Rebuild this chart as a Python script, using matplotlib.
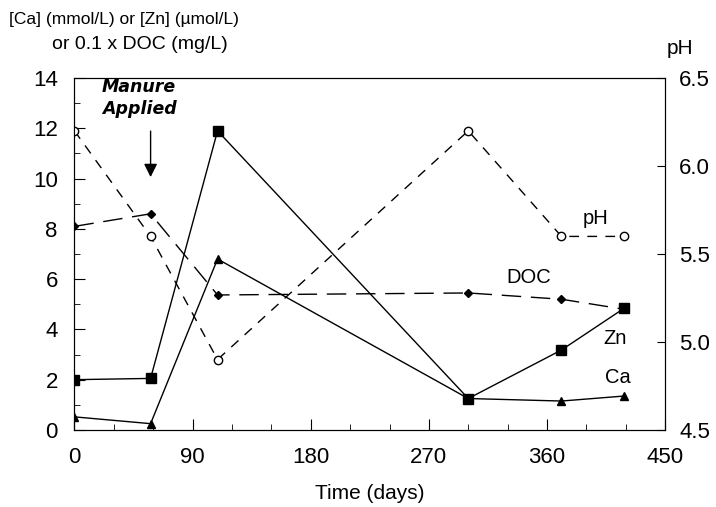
import matplotlib.pyplot as plt
from matplotlib.ticker import MultipleLocator

plt.rcParams['font.family'] = ['Liberation Sans', 'DejaVu Sans']

# data
days = [0, 58, 109, 300, 371, 419]
zn = [2.0, 2.05, 11.9, 1.25, 3.18, 4.85]
ca = [0.52, 0.25, 6.8, 1.25, 1.15, 1.35]
doc = [8.1, 8.6, 5.37, 5.45, 5.2, 4.8]
ph = [6.2, 5.6, 4.9, 6.2, 5.6, 5.6]

fig = plt.figure(figsize=(7.16, 5.07), dpi=100)
ax = fig.add_axes([0.104, 0.152, 0.825, 0.694])
ax2 = ax.twinx()

# Ca, Zn, DOC on left axis
ax.plot(days, zn, color='black', lw=1, marker='s', ms=7, mfc='black')
ax.plot(days, ca, color='black', lw=1, marker='^', ms=6, mfc='black')
ax.plot(days, doc, color='black', lw=1, marker='D', ms=4.5, mfc='black',
        dashes=(14, 7))

# pH on right axis
ax2.plot(days, ph, color='black', lw=1, marker='o', ms=6, mfc='white',
         mec='black', dashes=(7, 6))

ax.set_xlim(0, 450)
ax.set_ylim(0, 14)
ax2.set_ylim(4.5, 6.5)
ax.xaxis.set_major_locator(MultipleLocator(90))
ax.xaxis.set_minor_locator(MultipleLocator(30))
ax.yaxis.set_major_locator(MultipleLocator(2))
ax.yaxis.set_minor_locator(MultipleLocator(1))
ax2.set_yticks([4.5, 5.0, 5.5, 6.0, 6.5])
ax2.set_yticklabels(['4.5', '5.0', '5.5', '6.0', '6.5'])

ax.tick_params(which='both', direction='in', labelsize=16)
ax.tick_params(which='major', length=8)
ax.tick_params(which='minor', length=4)
ax.tick_params(axis='x', pad=12)
ax.tick_params(axis='y', pad=12)
ax2.tick_params(direction='in', labelsize=16, length=6, pad=10)

ax.set_xlabel('Time (days)', fontsize=15, labelpad=12)

# axis titles
fig.text(0.012, 0.962, '[Ca] (mmol/L) or [Zn] (\u00b5mol/L)', fontsize=12.5,
         ha='left', va='center')
fig.text(0.072, 0.912, 'or 0.1 x DOC (mg/L)', fontsize=14, ha='left', va='center')
fig.text(0.95, 0.905, 'pH', fontsize=15, ha='center', va='center')

# series labels
ax.text(397, 8.4, 'pH', fontsize=14.5, ha='center', va='center')
ax.text(346, 6.05, 'DOC', fontsize=14.5, ha='center', va='center')
ax.text(412, 3.62, 'Zn', fontsize=14.5, ha='center', va='center')
ax.text(414, 2.07, 'Ca', fontsize=14.5, ha='center', va='center')

# manure annotation
ax.text(21, 13.2, 'Manure\nApplied', fontsize=12.5, fontweight='bold',
        fontstyle='italic', family='DejaVu Sans', ha='left', va='center',
        linespacing=1.25)
ax.annotate('', xy=(58, 9.95), xytext=(58, 12.0),
            arrowprops=dict(arrowstyle='-|>', color='black', lw=1,
                            mutation_scale=20))

fig.savefig('out.png', dpi=100)
